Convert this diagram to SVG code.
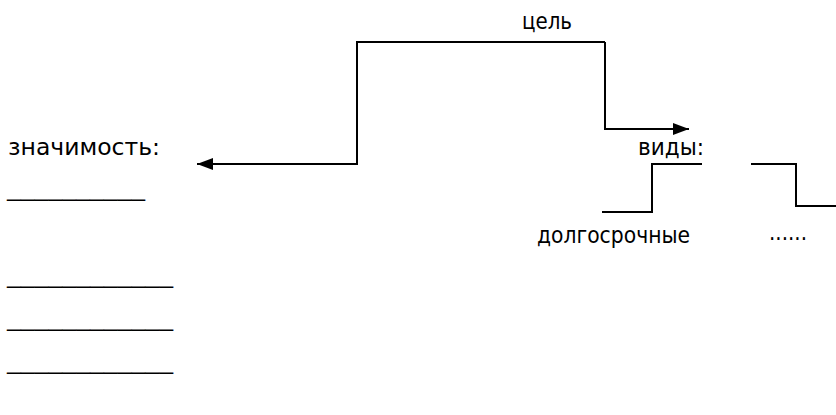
<svg xmlns="http://www.w3.org/2000/svg" width="836" height="415" viewBox="0 0 836 415">
<style>
text{font-family:"DejaVu Sans","Liberation Sans",sans-serif;font-size:23px;fill:#000}
.ln{fill:none;stroke:#000;stroke-width:2}
</style>
<defs>
<marker id="ah" viewBox="0 0 16 12" refX="16" refY="6" markerWidth="16" markerHeight="12" markerUnits="userSpaceOnUse" orient="auto">
<path d="M0,0 L16,6 L0,12 Z" fill="#000"/>
</marker>
</defs>
<rect width="836" height="415" fill="#fff"/>
<g id="connectors">
<path class="ln" d="M605,42 H357 V164 H197" marker-end="url(#ah)"/>
<path class="ln" d="M605,42 V129 H689" marker-end="url(#ah)"/>
<path class="ln" d="M602,212 H652 V164 H702"/>
<path class="ln" d="M751,164 H796 V206 H836"/>
</g>
<g id="goal"><text x="522" y="29" textLength="50" lengthAdjust="spacingAndGlyphs">цель</text></g>
<g id="significance"><text x="8" y="155" textLength="152" lengthAdjust="spacingAndGlyphs">значимость:</text>
<text x="7" y="196" textLength="138" lengthAdjust="spacingAndGlyphs">__________</text>
<text x="7" y="283" textLength="166" lengthAdjust="spacingAndGlyphs">____________</text>
<text x="7" y="326" textLength="166" lengthAdjust="spacingAndGlyphs">____________</text>
<text x="7" y="369" textLength="166" lengthAdjust="spacingAndGlyphs">____________</text>
</g>
<g id="kinds"><text x="638" y="155" textLength="66" lengthAdjust="spacingAndGlyphs">виды:</text></g>
<g id="longterm"><text x="537" y="243" textLength="153" lengthAdjust="spacingAndGlyphs">долгосрочные</text></g>
<g id="other"><text x="769" y="240" textLength="38" lengthAdjust="spacingAndGlyphs">......</text></g>
</svg>
